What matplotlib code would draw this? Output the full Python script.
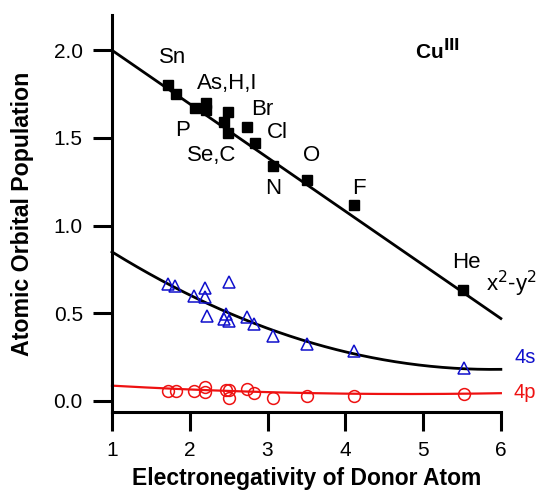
import numpy as np
import matplotlib
matplotlib.use("Agg")
import matplotlib.pyplot as plt

plt.rcParams['font.family'] = ['Liberation Sans', 'DejaVu Sans']

# === data ===
# d(x2-y2) population (black squares)
en_d = [1.72, 1.82, 2.07, 2.21, 2.21, 2.49, 2.44, 2.49, 2.74, 2.84, 3.07, 3.51, 4.11, 5.51]
pop_d = [1.80, 1.75, 1.67, 1.70, 1.66, 1.65, 1.59, 1.53, 1.56, 1.47, 1.34, 1.26, 1.12, 0.63]

# 4s population (blue triangles)
en_s = [1.72, 1.81, 2.06, 2.20, 2.20, 2.22, 2.51, 2.47, 2.44, 2.51, 2.74, 2.83, 3.07, 3.51, 4.11, 5.52]
pop_s = [0.667, 0.657, 0.598, 0.646, 0.590, 0.484, 0.678, 0.496, 0.469, 0.456, 0.479, 0.440,
         0.372, 0.325, 0.287, 0.186]

# 4p population (red circles)
en_p = [1.72, 1.82, 2.06, 2.20, 2.20, 2.47, 2.51, 2.51, 2.74, 2.83, 3.07, 3.51, 4.11, 5.52]
pop_p = [0.059, 0.059, 0.059, 0.081, 0.050, 0.063, 0.063, 0.015, 0.068, 0.047, 0.015, 0.028,
         0.028, 0.038]

# fit curves (polynomial coefficients, highest power first)
fit_d = [-0.306, 2.306]
fit_s = [0.028, -0.33, 1.152]
fit_p = [0.0033, -0.0317, 0.1154]

# atom labels: (text, x, y)
atom_labels = [
    ("Sn", 1.78, 1.96), ("As,H,I", 2.48, 1.81), ("P", 1.91, 1.54), ("Br", 2.93, 1.66),
    ("Cl", 3.13, 1.53), ("Se,C", 2.28, 1.40), ("O", 3.57, 1.40), ("N", 3.07, 1.21),
    ("F", 4.17, 1.21), ("He", 5.56, 0.79),
]

fig = plt.figure(figsize=(5.45, 4.91), dpi=100)
ax = fig.add_axes([0.2055, 0.161, 0.7135, 0.808])

xx = np.linspace(1, 6, 200)
ax.plot(xx, np.polyval(fit_d, xx), color="black", lw=2.0, clip_on=False)
ax.plot(xx, np.polyval(fit_s, xx), color="black", lw=2.0, clip_on=False)
ax.plot(xx, np.polyval(fit_p, xx), color="#ee1111", lw=1.6, clip_on=False)

ax.plot(en_d, pop_d, "s", color="black", ms=7.5, clip_on=False)
ax.plot(en_s, pop_s, "^", mfc="none", mec="#1010cc", mew=1.1, ms=8.5, clip_on=False)
ax.plot(en_p, pop_p, "o", mfc="none", mec="#ee1111", mew=1.1, ms=8.5, clip_on=False)

for txt, x, y in atom_labels:
    ax.text(x, y, txt, fontsize=16, ha="center", va="center")

ax.text(6.13, 0.67, "x$^2$-y$^2$", fontsize=16, ha="center", va="center", clip_on=False)
ax.text(6.31, 0.245, "4s", fontsize=14.5, color="#1010cc", ha="center", va="center")
ax.text(6.31, 0.046, "4p", fontsize=14.5, color="#ee1111", ha="center", va="center")
ax.text(5.18, 2.0, r"Cu$^{\mathbf{III}}$", fontsize=15, fontweight="bold", ha="center", va="center")

ax.set_xlim(1, 6)
ax.set_ylim(-0.063, 2.2)
ax.set_xticks([1, 2, 3, 4, 5, 6])
ax.set_yticks([0.0, 0.5, 1.0, 1.5, 2.0])
ax.set_yticklabels(["0.0", "0.5", "1.0", "1.5", "2.0"])
ax.tick_params(direction="out", length=14, width=2.2, labelsize=15, pad=7)

for side in ["top", "right"]:
    ax.spines[side].set_visible(False)
for side in ["left", "bottom"]:
    ax.spines[side].set_linewidth(2.2)

ax.set_xlabel("Electronegativity of Donor Atom", fontsize=16.5, fontweight="bold", labelpad=5)
ax.set_ylabel("Atomic Orbital Population", fontsize=16.7, fontweight="bold", labelpad=14)

fig.savefig("out.png", dpi=100)
